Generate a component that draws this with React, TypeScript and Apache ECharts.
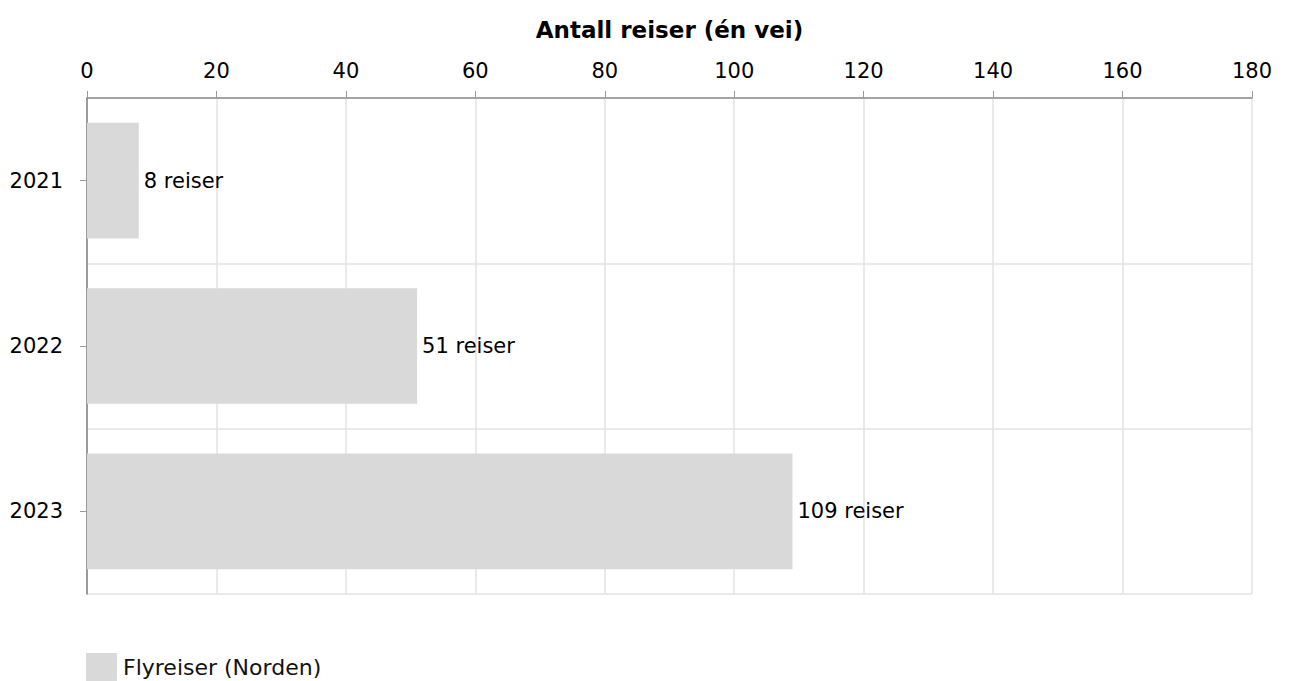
import React, { useEffect, useRef } from "react";
import * as echarts from "echarts";

const years = ["2021", "2022", "2023"];
const trips = [8, 51, 109];
const seriesName = "Flyreiser (Norden)";
const axisTitle = "Antall reiser (én vei)";
const xMin = 0;
const xMax = 180;
const xStep = 20;

const FONT = "DejaVu Sans, Verdana, sans-serif";

export default function App() {
  const ref = useRef<HTMLDivElement>(null);
  useEffect(() => {
    if (!ref.current) return;
    const chart = echarts.init(ref.current, null, { renderer: "svg" });
    chart.setOption({
      animation: false,
      textStyle: { fontFamily: FONT },
      grid: { left: 87, right: 38, top: 98, bottom: 87, containLabel: false },
      legend: {
        show: true,
        left: 86,
        bottom: 0,
        padding: 0,
        icon: "rect",
        itemWidth: 31,
        itemHeight: 28,
        itemGap: 8,
        textStyle: { fontSize: 22, color: "#111", fontFamily: FONT, padding: [0, 0, 0, 1] },
        data: [seriesName],
      },
      xAxis: {
        type: "value",
        position: "top",
        min: xMin,
        max: xMax,
        interval: xStep,
        name: axisTitle,
        nameLocation: "middle",
        nameGap: 57,
        nameTextStyle: { fontSize: 23, fontWeight: "bold", color: "#000", fontFamily: FONT },
        axisLine: { show: true, lineStyle: { color: "#8c8c8c", width: 1.5 } },
        axisTick: { show: true, length: 7, lineStyle: { color: "#9a9a9a" } },
        axisLabel: { fontSize: 21, color: "#000", margin: 17, fontFamily: FONT },
        splitLine: { show: true, lineStyle: { color: "#e3e3e3", width: 1.5 } },
      },
      yAxis: {
        type: "category",
        inverse: true,
        data: years,
        axisLine: { show: true, lineStyle: { color: "#808080", width: 1.5 } },
        axisTick: { show: true, alignWithLabel: true, length: 7, lineStyle: { color: "#9a9a9a" } },
        axisLabel: { fontSize: 21, color: "#000", margin: 24, fontFamily: FONT, padding: [3, 0, 0, 0] },
        splitLine: { show: true, lineStyle: { color: "#e3e3e3", width: 1.5 } },
      },
      series: [
        {
          name: seriesName,
          type: "bar",
          data: trips,
          barWidth: "70%",
          itemStyle: { color: "#d9d9d9" },
          label: {
            show: true,
            position: "right",
            distance: 5,
            formatter: "{c} reiser",
            fontSize: 21,
            color: "#000",
            fontFamily: FONT,
            padding: [4, 0, 0, 0],
          },
        },
      ],
    });
    return () => chart.dispose();
  }, []);
  return (
    <div
      ref={ref}
      style={{ position: "absolute", left: 0, top: 0, width: 1290, height: 681, background: "#fff" }}
    />
  );
}
